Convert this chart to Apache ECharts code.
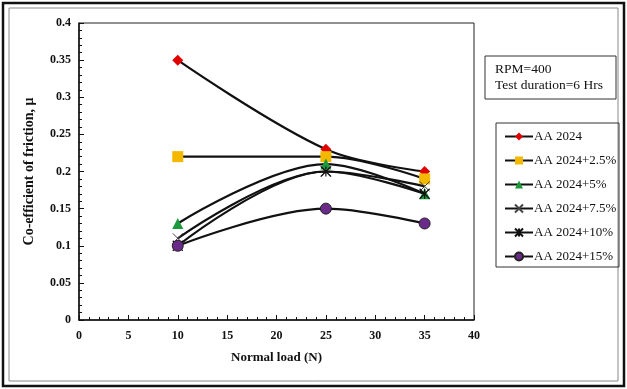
<!DOCTYPE html>
<html><head><meta charset="utf-8">
<script src="https://cdn.jsdelivr.net/npm/echarts@6/dist/echarts.min.js"></script>
<style>html,body{margin:0;padding:0;background:#fff}#c{width:627px;height:389px}</style>
</head><body><div id="c"></div>
<script>
const loads = [10, 25, 35];
const seriesNames = ['AA 2024','AA 2024+2.5%','AA 2024+5%','AA 2024+7.5%','AA 2024+10%','AA 2024+15%'];
const aa2024 = [0.35, 0.23, 0.20];
const aa2024_2_5 = [0.22, 0.22, 0.19];
const aa2024_5 = [0.13, 0.21, 0.17];
const aa2024_7_5 = [0.11, 0.20, 0.18];
const aa2024_10 = [0.10, 0.20, 0.17];
const aa2024_15 = [0.10, 0.15, 0.13];
const xTicks = [0,5,10,15,20,25,30,35,40];
const yTicks = [0,0.05,0.1,0.15,0.2,0.25,0.3,0.35,0.4];

const allValues = [aa2024, aa2024_2_5, aa2024_5, aa2024_7_5, aa2024_10, aa2024_15];
const markers = [
  {symbol:'diamond', size:11, color:'#e00000', border:'#e00000', bw:0},
  {symbol:'rect', size:11, color:'#f5b800', border:'#f5b800', bw:0},
  {symbol:'triangle', size:11, color:'#1a9a3a', border:'#1a9a3a', bw:0},
  {symbol:'path://M0 0 L10 10 M10 0 L0 10', size:10, color:'rgba(0,0,0,0)', border:'#444', bw:1},
  {symbol:'path://M0 0 L10 10 M10 0 L0 10 M5 0 L5 10', size:10, color:'rgba(0,0,0,0)', border:'#111', bw:1.2},
  {symbol:'circle', size:11, color:'#6a2a8a', border:'#222', bw:1}
];
const serif = 'Liberation Serif';
const series = allValues.map((vals, i) => ({
  name: seriesNames[i],
  type: 'line',
  smooth: 0.35,
  data: loads.map((x, j) => [x, vals[j]]),
  symbol: markers[i].symbol,
  symbolSize: markers[i].size,
  lineStyle: {color:'#111', width:2.2},
  itemStyle: {color: markers[i].color, borderColor: markers[i].border, borderWidth: markers[i].bw},
  z: 2 + i
}));

const chart = echarts.init(document.getElementById('c'));
chart.setOption({
  animation: false,
  backgroundColor: '#fff',
  grid: {left: 79, right: 153, top: 23, bottom: 69, show: true, borderColor: '#222', borderWidth: 1},
  xAxis: {
    type: 'value', min: 0, max: 40, interval: 5,
    name: 'Normal load (N)', nameLocation: 'middle', nameGap: 31,
    nameTextStyle: {fontFamily: serif, fontWeight: 'bold', fontSize: 13, color: '#111'},
    axisLine: {lineStyle: {color: '#111', width: 1.5}},
    axisTick: {inside: true, length: 5, lineStyle: {color: '#111'}},
    minorTick: {show: true, splitNumber: 5, length: 3, lineStyle: {color: '#111'}},
    axisLabel: {fontFamily: serif, fontWeight: 'bold', fontSize: 12, color: '#111', margin: 10,
      formatter: v => xTicks.includes(v) ? String(v) : ''},
    splitLine: {show: false}
  },
  yAxis: {
    type: 'value', min: 0, max: 0.4, interval: 0.05,
    name: 'Co-efficient of friction, μ', nameLocation: 'middle', nameGap: 43,
    nameTextStyle: {fontFamily: serif, fontWeight: 'bold', fontSize: 14, color: '#111'},
    axisLine: {show: true, lineStyle: {color: '#111', width: 1.5}},
    axisTick: {show: true, inside: true, length: 5, lineStyle: {color: '#111'}},
    minorTick: {show: true, splitNumber: 5, length: 3, lineStyle: {color: '#111'}},
    axisLabel: {fontFamily: serif, fontWeight: 'bold', fontSize: 12, color: '#111', margin: 8,
      formatter: v => { const t = yTicks.find(y => Math.abs(y - v) < 1e-9); return t === undefined ? '' : String(t); }},
    splitLine: {show: false}
  },
  legend: {
    orient: 'vertical', left: 499, top: 125,
    itemWidth: 28, itemHeight: 10, itemGap: 11,
    textStyle: {fontFamily: serif, fontSize: 13, color: '#111', padding: [0,0,0,-4]},
    data: seriesNames
  },
  graphic: [
    {type: 'rect', shape: {x: 3, y: 3, width: 621, height: 383}, style: {fill: 'none', stroke: '#111', lineWidth: 2.5}, silent: true},
    {type: 'rect', shape: {x: 9, y: 8, width: 609, height: 373}, style: {fill: 'none', stroke: '#888', lineWidth: 1}, silent: true},
    {type: 'rect', shape: {x: 485, y: 56, width: 131, height: 43}, style: {fill: '#fff', stroke: '#333', lineWidth: 1}},
    {type: 'text', left: 495, top: 61, style: {text: 'RPM=400\nTest duration=6 Hrs', font: '13.5px "Liberation Serif"', fill: '#111', lineHeight: 16}},
    {type: 'rect', shape: {x: 496, y: 123, width: 123, height: 144}, style: {fill: 'none', stroke: '#333', lineWidth: 1}}
  ],
  series: series
});
</script></body></html>
